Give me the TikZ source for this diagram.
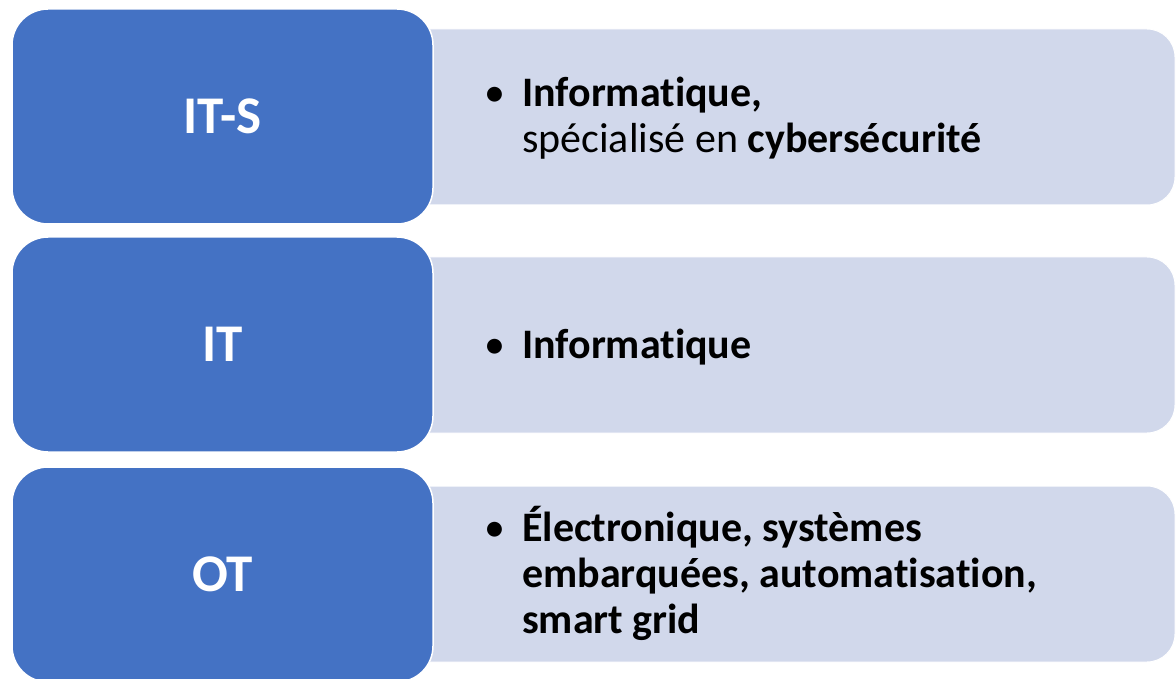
\documentclass[tikz,border=0pt]{standalone}
\usepackage{fontspec}
\setmainfont[Ligatures=NoCommon]{Carlito}
\definecolor{boxblue}{RGB}{68,114,196}
\definecolor{paleblue}{RGB}{209,216,235}
\newcommand{\puce}{\llap{\textbullet\hspace{17pt}}}

\begin{document}
\begin{tikzpicture}[x=1pt,y=-1pt,
title/.style={draw=white,line width=1.5pt,fill=boxblue,rounded corners=36pt,minimum width=421,minimum height=215,text=white,font=\fontsize{53}{64}\selectfont\bfseries},
descr/.style={draw=white,line width=1pt,fill=paleblue,rounded corners=28pt,minimum width=875,minimum height=176},
txt/.style={anchor=base west,align=left,inner sep=0pt,font=\fontsize{42}{46}\selectfont}]
\clip (0,0) rectangle (1176,679);
\node[descr] (itsbox) at (737.5,117) {};
\node[descr] (itbox) at (737.5,345) {};
\node[descr] (otbox) at (737.5,574) {};
\node[title] (its) at (222.5,116.5) {IT-S};
\node[title] (it) at (222.5,344.5) {IT};
\node[title] (ot) at (222.5,574.5) {OT};
\node[txt] (itstext) at (522,152.8) {\puce\textbf{Informatique,}\\spécialisé en \textbf{cybersécurité}};
\node[txt] (ittext) at (522,358.3) {\puce\textbf{Informatique}};
\node[txt] (ottext) at (522,633.3) {\puce\textbf{Électronique, systèmes}\\\textbf{embarquées, automatisation,}\\\textbf{smart grid}};
\end{tikzpicture}
\end{document}
